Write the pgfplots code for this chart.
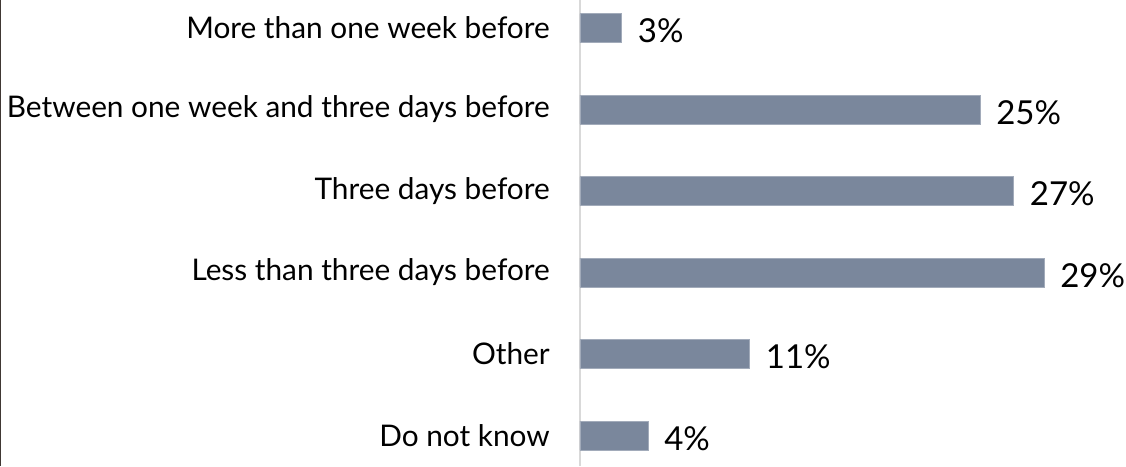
\documentclass[border=0pt]{standalone}
\usepackage{pgfplots}
\pgfplotsset{compat=1.18}
\usepackage{fontspec}
\setmainfont{Lato}
\definecolor{barcol}{RGB}{122,135,156}
\definecolor{axcol}{RGB}{217,217,217}
\definecolor{edgecol}{RGB}{64,56,52}
\begin{document}
\begin{tikzpicture}
\begin{axis}[
  scale only axis,
  width=546pt, height=466pt,
  xmin=0, xmax=34.125,
  ymin=-0.374, ymax=5.344,
  xbar, bar width=29pt,
  axis x line=none,
  axis y line*=left,
  y axis line style={color=axcol, line width=1.2pt},
  ytick={0,1,2,3,4,5},
  yticklabels={Do not know, Other, Less than three days before, Three days before, Between one week and three days before, More than one week before},
  major tick length=0pt,
  ytick style={draw=none},
  yticklabel style={font=\fontsize{29.8}{34}\selectfont, inner sep=0pt, xshift=-30pt},
  clip=false,
  /pgf/number format/assume math mode=true,
  nodes near coords={\pgfmathprintnumber[fixed,precision=0,assume math mode=true]{\pgfplotspointmeta}\%},
  nodes near coords style={font=\fontsize{33}{38}\selectfont, anchor=west, inner sep=0pt, xshift=16pt, yshift=-3pt},
]
\addplot[fill=barcol, draw=barcol!70!white, line width=0.6pt] coordinates {
  (4.25,0) (10.6,1) (29,2) (27.1,3) (25,4) (2.6,5)
};
\end{axis}
\draw[edgecol, line width=1.5pt] (-579.25pt,0) -- (-579.25pt,466pt);
\pgfresetboundingbox
\path (-580pt,0) rectangle (546pt,466pt);
\end{tikzpicture}
\end{document}
